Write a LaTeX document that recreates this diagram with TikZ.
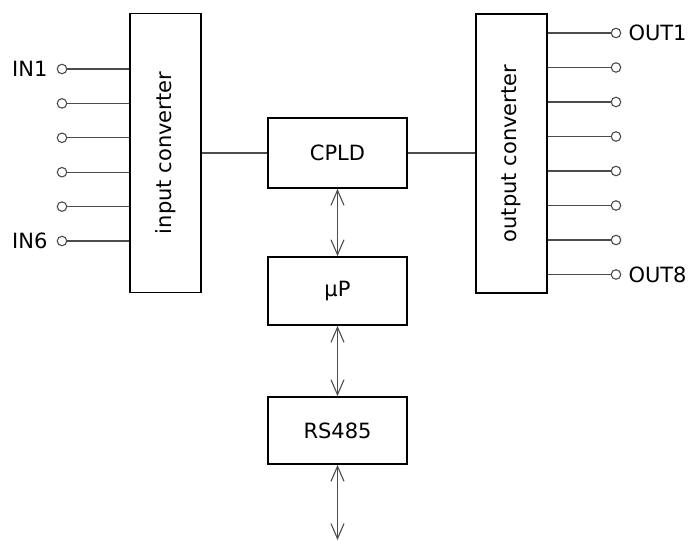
\documentclass[tikz,border=0pt]{standalone}
\usepackage{fontspec}
\setmainfont{DejaVu Sans}
\usetikzlibrary{positioning}
\usetikzlibrary{calc}
\usetikzlibrary{arrows.meta}

\begin{document}
\begin{tikzpicture}[x=1pt,y=-1pt,
		block/.style={draw, line width=1.8pt, inner sep=0pt, font=\fontsize{21}{24}\selectfont},
		wire/.style={line width=1.1pt, black!70},
		pin/.style={circle, draw, line width=1.1pt, black!70, fill=white, inner sep=0pt, minimum size=9.5pt},
		bus/.style={wire, {Straight Barb[length=15pt,width=13pt]}-{Straight Barb[length=15pt,width=13pt]}},
		pinlabel/.style={font=\fontsize{21}{24}\selectfont, inner sep=1pt}]

	\useasboundingbox (0,0) rectangle (691,541);

	% converters
	\node [block, minimum width=71pt, minimum height=279pt] (inconv) at (165.5,153) {\rotatebox{90}{input converter}};
	\node [block, minimum width=71pt, minimum height=279pt] (outconv) at (511.5,153.5) {\rotatebox{90}{output converter}};

	% middle column
	\node [block, minimum width=139pt, minimum height=70pt] (cpld) at (337.5,153) {CPLD};
	\node [block, minimum width=139pt, minimum height=68pt] (up) at (337.5,291) {µP};
	\node [block, minimum width=139pt, minimum height=67pt] (rs) at (337.5,430.5) {RS485};
	\coordinate (bus) at (337.5,540);

	\draw [wire] (cpld.west) -- (cpld.west -| inconv.east);
	\draw [wire] (cpld.east) -- (cpld.east -| outconv.west);
	\draw [bus] (cpld) -- (up);
	\draw [bus] (up) -- (rs);
	\draw [bus] (rs) -- (bus);

	% inputs
	\foreach \i in {1,...,6} {
		\node [pin] (in\i) at ({62},{69+34.4*(\i-1)}) {};
		\draw [wire] (in\i) -- (in\i -| inconv.west);
	}
	\node [pinlabel, left=8pt of in1] {IN1};
	\node [pinlabel, left=8pt of in6] {IN6};

	% outputs
	\foreach \i in {1,...,8} {
		\node [pin] (out\i) at ({616},{33+34.5*(\i-1)}) {};
		\draw [wire] (out\i -| outconv.east) -- (out\i);
	}
	\node [pinlabel, right=6pt of out1] {OUT1};
	\node [pinlabel, right=6pt of out8] {OUT8};
\end{tikzpicture}
\end{document}
